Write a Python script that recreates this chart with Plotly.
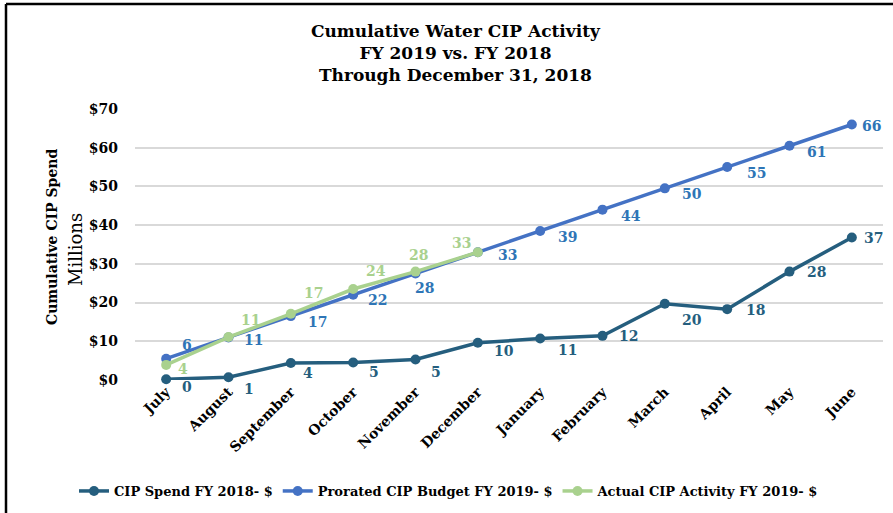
import plotly.graph_objects as go

months = ["July", "August", "September", "October", "November", "December",
          "January", "February", "March", "April", "May", "June"]
spend_fy18 = [0.2, 0.7, 4.4, 4.5, 5.3, 9.6, 10.7, 11.4, 19.7, 18.3, 28.0, 36.8]
spend_fy18_lbl = [0, 1, 4, 5, 5, 10, 11, 12, 20, 18, 28, 37]
budget_fy19 = [5.5, 11.0, 16.5, 22.0, 27.5, 33.0, 38.5, 44.0, 49.5, 55.0, 60.5, 66.0]
budget_fy19_lbl = [6, 11, 17, 22, 28, 33, 39, 44, 50, 55, 61, 66]
actual_fy19 = [3.9, 11.1, 17.1, 23.5, 28.0, 33.0]
actual_fy19_lbl = [4, 11, 17, 24, 28, 33]
y_ticks = [0, 10, 20, 30, 40, 50, 60, 70]

FONT = "DejaVu Serif"
C18 = "#255E7E"
CBUD = "#4472C4"
CBUD_TXT = "#2E75B6"
CACT = "#A9D18E"

# label offsets from the marker, in pixels (right, down)
off_fy18 = [(21, 8), (20, 12), (17, 10), (21, 9), (20, 13), (26, 8),
            (27, 11), (26, 0), (27, 16), (28, 1), (27, 0), (22, 0)]
off_bud = [(21, -14), (25, 3), (27, 6), (24, 5), (9, 14), (30, 3),
           (27, 6), (28, 6), (27, 6), (29, 6), (27, 6), (20, 2)]
off_act = [(17, 4), (22, -17), (23, -21), (23, -18), (3, -17), (-16, -9)]

# plot area in pixels: x 135..883, y 109..380
PW, PH = 748, 271


def px_x(p):
    return (p - 135) / PW


def px_y(p):
    return (380 - p) / PH


fig = go.Figure()
for name, ys, color in [("CIP Spend FY 2018- $", spend_fy18, C18),
                        ("Prorated CIP Budget FY 2019- $", budget_fy19, CBUD),
                        ("Actual CIP Activity FY 2019- $", actual_fy19, CACT)]:
    fig.add_trace(go.Scatter(
        x=months[:len(ys)], y=ys, name=name, mode="lines+markers",
        line=dict(color=color, width=3.5), marker=dict(size=10, color=color),
        cliponaxis=False))

annos = []
for ys, lbls, offs, color in [(spend_fy18, spend_fy18_lbl, off_fy18, C18),
                              (budget_fy19, budget_fy19_lbl, off_bud, CBUD_TXT),
                              (actual_fy19, actual_fy19_lbl, off_act, CACT)]:
    for m, y, lbl, (dx, dy) in zip(months, ys, lbls, offs):
        annos.append(dict(x=m, y=y, xref="x", yref="y", text="<b>%d</b>" % lbl,
                          showarrow=False, xshift=dx, yshift=-dy,
                          font=dict(family=FONT, size=14, color=color)))

annos += [
    dict(text="<b>Cumulative CIP Spend</b>", textangle=-90, showarrow=False,
         xref="paper", yref="paper", x=px_x(52), y=px_y(237),
         xanchor="center", yanchor="middle",
         font=dict(family=FONT, size=14, color="black")),
    dict(text="Millions", textangle=-90, showarrow=False,
         xref="paper", yref="paper", x=px_x(75), y=px_y(250),
         xanchor="center", yanchor="middle",
         font=dict(family=FONT, size=18, color="black")),
]

fig.update_layout(
    width=893, height=513,
    margin=dict(l=135, r=10, t=109, b=133, autoexpand=False),
    paper_bgcolor="white", plot_bgcolor="white",
    font=dict(family=FONT, color="black"),
    title=dict(
        text="<b>Cumulative Water CIP Activity<br>FY 2019 vs. FY 2018<br>Through December 31, 2018</b>",
        x=0.51, xanchor="center", y=1 - 37 / 513, yanchor="middle",
        font=dict(family=FONT, size=17, color="black")),
    showlegend=True,
    legend=dict(orientation="h", x=px_x(449), xanchor="center", y=px_y(491), yanchor="middle",
                font=dict(family=FONT, size=13, color="black", weight="bold"),
                itemwidth=30, tracegroupgap=0),
    annotations=annos,
    shapes=[
        dict(type="line", xref="paper", yref="paper",
             x0=px_x(6), x1=1.02, y0=px_y(4), y1=px_y(4),
             line=dict(color="black", width=2.5)),
        dict(type="line", xref="paper", yref="paper",
             x0=px_x(6), x1=px_x(6), y0=px_y(4), y1=px_y(520),
             line=dict(color="black", width=2.5)),
    ],
)
fig.update_xaxes(
    range=[-0.5, 11.5], tickangle=-45, showgrid=False, showline=False, ticks="",
    automargin=False,
    tickfont=dict(family=FONT, size=14, color="black", weight="bold"))
fig.update_yaxes(
    range=[0, 70], tickvals=y_ticks, ticktext=["$" + str(v) for v in y_ticks],
    showgrid=True, gridcolor="#D9D9D9", gridwidth=1.5, zeroline=False,
    showline=False, ticks="", ticklen=0, automargin=False, ticklabelstandoff=16,
    tickfont=dict(family=FONT, size=14, color="black", weight="bold"))

fig.write_html("out.html", config={"displayModeBar": False},
               post_script="document.body.style.margin='0';")
